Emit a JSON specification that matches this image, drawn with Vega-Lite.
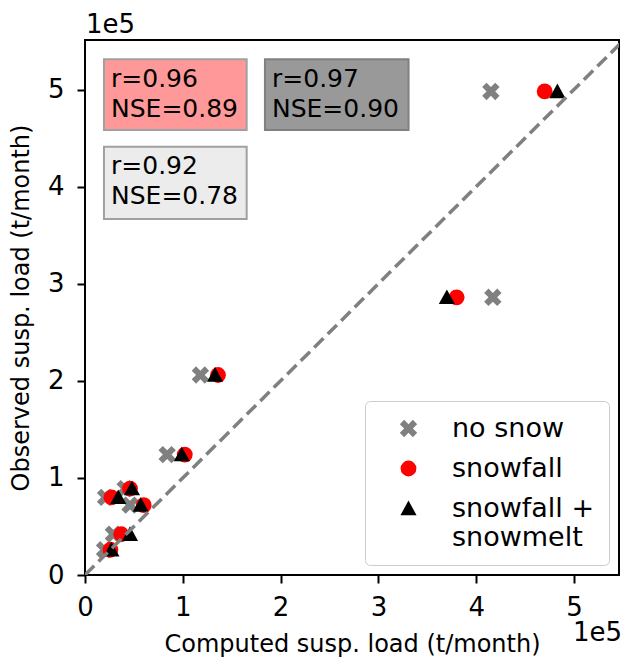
{
  "$schema": "https://vega.github.io/schema/vega-lite/v6.json",
  "width": 534,
  "height": 535,
  "autosize": "none",
  "padding": {"left": 85, "top": 40, "right": 4, "bottom": 82},
  "config": {
    "font": "DejaVu Sans",
    "view": {"stroke": "black", "strokeWidth": 2},
    "axis": {
      "grid": false,
      "domain": false,
      "labelFlush": false,
      "tickColor": "black",
      "tickWidth": 2,
      "tickSize": 8,
      "labelColor": "black",
      "labelFont": "DejaVu Sans",
      "labelFontSize": 26,
      "titleFont": "DejaVu Sans",
      "titleFontSize": 24,
      "titleFontWeight": "normal",
      "titleColor": "black"
    }
  },
  "datasets": {
    "pts": [
      {"series": "no snow", "computed": 415000, "observed": 498000},
      {"series": "no snow", "computed": 417000, "observed": 286000},
      {"series": "no snow", "computed": 118000, "observed": 206000},
      {"series": "no snow", "computed": 84000, "observed": 124000},
      {"series": "no snow", "computed": 41000, "observed": 89000},
      {"series": "no snow", "computed": 21000, "observed": 80000},
      {"series": "no snow", "computed": 46000, "observed": 72000},
      {"series": "no snow", "computed": 29000, "observed": 42000},
      {"series": "no snow", "computed": 20000, "observed": 26000},
      {"series": "snowfall", "computed": 470000, "observed": 498000},
      {"series": "snowfall", "computed": 380000, "observed": 286000},
      {"series": "snowfall", "computed": 136000, "observed": 206000},
      {"series": "snowfall", "computed": 102000, "observed": 124000},
      {"series": "snowfall", "computed": 46000, "observed": 89000},
      {"series": "snowfall", "computed": 27000, "observed": 80000},
      {"series": "snowfall", "computed": 60000, "observed": 72000},
      {"series": "snowfall", "computed": 37000, "observed": 42000},
      {"series": "snowfall", "computed": 26000, "observed": 26000},
      {"series": "snowfall + snowmelt", "computed": 483000, "observed": 498000},
      {"series": "snowfall + snowmelt", "computed": 370000, "observed": 286000},
      {"series": "snowfall + snowmelt", "computed": 133000, "observed": 206000},
      {"series": "snowfall + snowmelt", "computed": 99000, "observed": 124000},
      {"series": "snowfall + snowmelt", "computed": 48000, "observed": 89000},
      {"series": "snowfall + snowmelt", "computed": 34000, "observed": 80000},
      {"series": "snowfall + snowmelt", "computed": 57000, "observed": 72000},
      {"series": "snowfall + snowmelt", "computed": 46000, "observed": 42000},
      {"series": "snowfall + snowmelt", "computed": 27000, "observed": 26000}
    ],
    "diag": [
      {"computed": 0, "observed": 0},
      {"computed": 560000, "observed": 560000}
    ]
  },
  "layer": [
    {
      "data": {"name": "pts"},
      "mark": {"type": "point", "filled": true, "opacity": 1, "size": 250, "strokeWidth": 0},
      "encoding": {
        "x": {
          "field": "computed", "type": "quantitative",
          "scale": {"domain": [0, 546000], "nice": false, "zero": true},
          "axis": {"values": [0, 100000, 200000, 300000, 400000, 500000], "labelExpr": "datum.value/100000", "title": "Computed susp. load (t/month)", "labelPadding": 11, "titlePadding": 12}
        },
        "y": {
          "field": "observed", "type": "quantitative",
          "scale": {"domain": [0, 551000], "nice": false, "zero": true},
          "axis": {"values": [0, 100000, 200000, 300000, 400000, 500000], "labelExpr": "datum.value/100000", "title": "Observed susp. load (t/month)", "labelPadding": 13, "titlePadding": 14}
        },
        "color": {
          "field": "series", "type": "nominal",
          "scale": {"domain": ["no snow", "snowfall", "snowfall + snowmelt"], "range": ["#808080", "#ff0000", "#000000"]},
          "legend": {
            "title": null, "orient": "none", "legendX": 280, "legendY": 361,
            "padding": 14, "symbolOffset": 16, "labelOffset": 30, "rowPadding": 12,
            "labelFontSize": 27, "labelFont": "DejaVu Sans", "labelColor": "black", "labelLimit": 0,
            "strokeColor": "#cccccc", "fillColor": "white", "cornerRadius": 5,
            "symbolSize": 250, "symbolStrokeWidth": 0,
            "labelExpr": "datum.label == 'snowfall + snowmelt' ? ['snowfall +', 'snowmelt'] : datum.label"
          }
        },
        "shape": {
          "field": "series", "type": "nominal",
          "scale": {"domain": ["no snow", "snowfall", "snowfall + snowmelt"], "range": ["M0.55,-1.1L1.1,-0.55L0.55,0L1.1,0.55L0.55,1.1L0,0.55L-0.55,1.1L-1.1,0.55L-0.55,0L-1.1,-0.55L-0.55,-1.1L0,-0.55Z", "circle", "M0,-1L1.02,0.85L-1.02,0.85Z"]}
        }
      }
    },
    {
      "data": {"name": "diag"},
      "mark": {"type": "line", "color": "#808080", "strokeWidth": 3.5, "strokeDash": [13, 6], "clip": true},
      "encoding": {
        "x": {"field": "computed", "type": "quantitative"},
        "y": {"field": "observed", "type": "quantitative"}
      }
    },
    {
      "data": {"values": [{"t": "a"}]},
      "mark": {"type": "rect", "fill": "#ff9999", "stroke": "#a0a0a0", "strokeWidth": 2},
      "encoding": {
        "x": {"datum": 19400, "type": "quantitative"}, "x2": {"datum": 165300},
        "y": {"datum": 531100, "type": "quantitative"}, "y2": {"datum": 458300}
      }
    },
    {
      "data": {"values": [{"t": "b"}]},
      "mark": {"type": "rect", "fill": "#999999", "stroke": "#808080", "strokeWidth": 2},
      "encoding": {
        "x": {"datum": 184000, "type": "quantitative"}, "x2": {"datum": 330800},
        "y": {"datum": 531100, "type": "quantitative"}, "y2": {"datum": 458300}
      }
    },
    {
      "data": {"values": [{"t": "c"}]},
      "mark": {"type": "rect", "fill": "#ececec", "stroke": "#a0a0a0", "strokeWidth": 2},
      "encoding": {
        "x": {"datum": 19400, "type": "quantitative"}, "x2": {"datum": 165300},
        "y": {"datum": 441100, "type": "quantitative"}, "y2": {"datum": 366600}
      }
    },
    {
      "data": {"values": [{"label": "r=0.96\nNSE=0.89"}]},
      "mark": {"type": "text", "align": "left", "baseline": "alphabetic", "fontSize": 25, "lineHeight": 30, "lineBreak": "\n", "color": "black", "font": "DejaVu Sans"},
      "encoding": {
        "x": {"datum": 26600, "type": "quantitative"},
        "y": {"datum": 502600, "type": "quantitative"},
        "text": {"field": "label"}
      }
    },
    {
      "data": {"values": [{"label": "r=0.97\nNSE=0.90"}]},
      "mark": {"type": "text", "align": "left", "baseline": "alphabetic", "fontSize": 25, "lineHeight": 30, "lineBreak": "\n", "color": "black", "font": "DejaVu Sans"},
      "encoding": {
        "x": {"datum": 191200, "type": "quantitative"},
        "y": {"datum": 502600, "type": "quantitative"},
        "text": {"field": "label"}
      }
    },
    {
      "data": {"values": [{"label": "r=0.92\nNSE=0.78"}]},
      "mark": {"type": "text", "align": "left", "baseline": "alphabetic", "fontSize": 25, "lineHeight": 30, "lineBreak": "\n", "color": "black", "font": "DejaVu Sans"},
      "encoding": {
        "x": {"datum": 26600, "type": "quantitative"},
        "y": {"datum": 412600, "type": "quantitative"},
        "text": {"field": "label"}
      }
    },
    {
      "data": {"values": [{"label": "1e5"}]},
      "mark": {"type": "text", "align": "left", "baseline": "alphabetic", "fontSize": 26, "dx": 1, "dy": -7, "color": "black", "font": "DejaVu Sans"},
      "encoding": {
        "x": {"datum": 0, "type": "quantitative"},
        "y": {"datum": 551000, "type": "quantitative"},
        "text": {"field": "label"}
      }
    },
    {
      "data": {"values": [{"label": "1e5"}]},
      "mark": {"type": "text", "align": "right", "baseline": "alphabetic", "fontSize": 26, "dx": 3, "dy": 66, "color": "black", "font": "DejaVu Sans"},
      "encoding": {
        "x": {"datum": 546000, "type": "quantitative"},
        "y": {"datum": 0, "type": "quantitative"},
        "text": {"field": "label"}
      }
    }
  ]
}
